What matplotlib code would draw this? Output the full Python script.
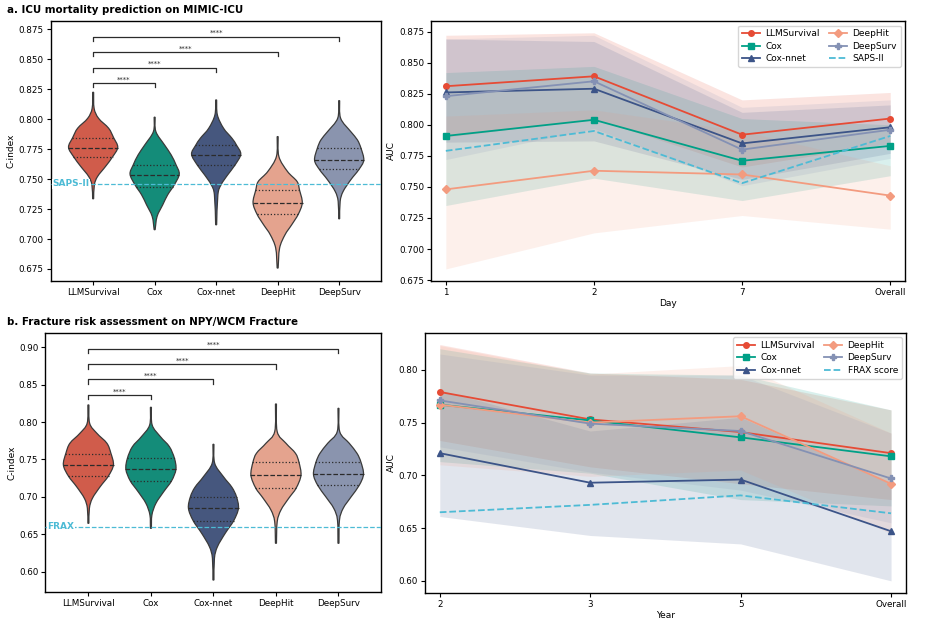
import numpy as np
import matplotlib
matplotlib.use("Agg")
import matplotlib.pyplot as plt
from matplotlib.path import Path
from matplotlib.patches import PathPatch
import seaborn as sns

plt.rcParams['font.family'] = ['DejaVu Sans']

# ==========================
# Data
# ==========================
models = ["LLMSurvival", "Cox", "Cox-nnet", "DeepHit", "DeepSurv"]

colors = {"LLMSurvival": "#E64B35", "Cox": "#00A087", "Cox-nnet": "#3C5488",
          "DeepHit": "#F39B7F", "DeepSurv": "#8491B4"}
markers = {"LLMSurvival": "o", "Cox": "s", "Cox-nnet": "^",
           "DeepHit": "D", "DeepSurv": "P"}
ref_color = "#4DBBD5"

# violin outlines (y value, relative density)
icu_violin_y = {
    "LLMSurvival": [0.8225, 0.8091, 0.8008, 0.7925, 0.7847, 0.7766, 0.7686, 0.7605, 0.7522, 0.7453, 0.7336],
    "Cox":         [0.8017, 0.7897, 0.7786, 0.7703, 0.7619, 0.7542, 0.7453, 0.7369, 0.7286, 0.7189, 0.7078],
    "Cox-nnet":    [0.8161, 0.8036, 0.7925, 0.7842, 0.7783, 0.7708, 0.7619, 0.7536, 0.7453, 0.7369, 0.7119],
    "DeepHit":     [0.7855, 0.7689, 0.7564, 0.7480, 0.7408, 0.7303, 0.7208, 0.7119, 0.7036, 0.6925, 0.6758],
    "DeepSurv":    [0.8155, 0.8008, 0.7897, 0.7828, 0.7756, 0.7658, 0.7580, 0.7494, 0.7397, 0.7314, 0.7169],
}
icu_violin_w = {
    "LLMSurvival": [0.02, 0.04, 0.22, 0.63, 0.83, 1.00, 0.79, 0.50, 0.18, 0.05, 0.02],
    "Cox":         [0.02, 0.05, 0.40, 0.67, 0.87, 1.00, 0.80, 0.53, 0.33, 0.10, 0.02],
    "Cox-nnet":    [0.02, 0.05, 0.30, 0.64, 0.83, 1.00, 0.77, 0.47, 0.20, 0.07, 0.02],
    "DeepHit":     [0.02, 0.05, 0.40, 0.79, 0.89, 1.00, 0.84, 0.57, 0.30, 0.08, 0.02],
    "DeepSurv":    [0.02, 0.06, 0.47, 0.74, 0.89, 1.00, 0.80, 0.47, 0.16, 0.04, 0.02],
}
icu_quartiles = {
    "LLMSurvival": [0.7684, 0.7763, 0.7845],
    "Cox":         [0.7433, 0.7536, 0.7619],
    "Cox-nnet":    [0.7619, 0.7705, 0.7783],
    "DeepHit":     [0.7208, 0.7302, 0.7407],
    "DeepSurv":    [0.7582, 0.7660, 0.7756],
}

frac_violin_y = {
    "LLMSurvival": [0.8229, 0.7984, 0.7850, 0.7717, 0.7583, 0.7427, 0.7279, 0.7136, 0.6981, 0.6848, 0.6647],
    "Cox":         [0.8198, 0.7961, 0.7805, 0.7671, 0.7516, 0.7369, 0.7217, 0.7069, 0.6914, 0.6758, 0.6580],
    "Cox-nnet":    [0.7703, 0.7450, 0.7270, 0.7128, 0.7003, 0.6848, 0.6682, 0.6513, 0.6334, 0.6179, 0.5889],
    "DeepHit":     [0.8242, 0.7872, 0.7717, 0.7583, 0.7463, 0.7289, 0.7119, 0.6981, 0.6825, 0.6669, 0.6380],
    "DeepSurv":    [0.8184, 0.7872, 0.7717, 0.7583, 0.7463, 0.7302, 0.7155, 0.7003, 0.6848, 0.6691, 0.6380],
}
frac_violin_w = {
    "LLMSurvival": [0.02, 0.05, 0.34, 0.74, 0.90, 1.00, 0.80, 0.47, 0.16, 0.04, 0.02],
    "Cox":         [0.02, 0.05, 0.38, 0.74, 0.94, 1.00, 0.83, 0.51, 0.20, 0.04, 0.02],
    "Cox-nnet":    [0.02, 0.05, 0.40, 0.74, 0.92, 1.00, 0.81, 0.47, 0.16, 0.04, 0.02],
    "DeepHit":     [0.02, 0.05, 0.40, 0.78, 0.92, 1.00, 0.81, 0.51, 0.20, 0.05, 0.02],
    "DeepSurv":    [0.02, 0.05, 0.43, 0.74, 0.90, 1.00, 0.83, 0.51, 0.19, 0.04, 0.02],
}
frac_quartiles = {
    "LLMSurvival": [0.7277, 0.7424, 0.7577],
    "Cox":         [0.7214, 0.7368, 0.7518],
    "Cox-nnet":    [0.6682, 0.6847, 0.7005],
    "DeepHit":     [0.7119, 0.7288, 0.7462],
    "DeepSurv":    [0.7157, 0.7302, 0.7462],
}

saps_cindex = 0.746
frax_cindex = 0.660

icu_bracket_y = [0.830, 0.843, 0.856, 0.869]
frac_bracket_y = [0.836, 0.857, 0.877, 0.898]

# time-dependent AUC
icu_days = ["1", "2", "7", "Overall"]
icu_mean = {
    "LLMSurvival": [0.831, 0.839, 0.792, 0.805],
    "Cox":         [0.791, 0.804, 0.771, 0.783],
    "Cox-nnet":    [0.826, 0.829, 0.785, 0.798],
    "DeepHit":     [0.748, 0.763, 0.760, 0.743],
    "DeepSurv":    [0.823, 0.835, 0.780, 0.796],
}
icu_lower = {
    "LLMSurvival": [0.790, 0.805, 0.766, 0.785],
    "Cox":         [0.735, 0.757, 0.739, 0.759],
    "Cox-nnet":    [0.786, 0.787, 0.756, 0.777],
    "DeepHit":     [0.684, 0.713, 0.727, 0.716],
    "DeepSurv":    [0.772, 0.797, 0.751, 0.773],
}
icu_upper = {
    "LLMSurvival": [0.872, 0.874, 0.820, 0.826],
    "Cox":         [0.842, 0.847, 0.805, 0.800],
    "Cox-nnet":    [0.869, 0.867, 0.810, 0.816],
    "DeepHit":     [0.807, 0.812, 0.795, 0.767],
    "DeepSurv":    [0.869, 0.872, 0.814, 0.820],
}
saps_auc = [0.779, 0.795, 0.753, 0.791]

frac_years = ["2", "3", "5", "Overall"]
frac_mean = {
    "LLMSurvival": [0.779, 0.753, 0.741, 0.721],
    "Cox":         [0.767, 0.752, 0.736, 0.718],
    "Cox-nnet":    [0.721, 0.693, 0.696, 0.647],
    "DeepHit":     [0.767, 0.750, 0.756, 0.692],
    "DeepSurv":    [0.771, 0.749, 0.742, 0.697],
}
frac_lower = {
    "LLMSurvival": [0.733, 0.708, 0.692, 0.677],
    "Cox":         [0.713, 0.702, 0.677, 0.671],
    "Cox-nnet":    [0.661, 0.643, 0.635, 0.600],
    "DeepHit":     [0.710, 0.699, 0.705, 0.645],
    "DeepSurv":    [0.727, 0.703, 0.686, 0.655],
}
frac_upper = {
    "LLMSurvival": [0.824, 0.797, 0.791, 0.762],
    "Cox":         [0.820, 0.797, 0.795, 0.762],
    "Cox-nnet":    [0.781, 0.742, 0.755, 0.692],
    "DeepHit":     [0.823, 0.796, 0.804, 0.740],
    "DeepSurv":    [0.815, 0.795, 0.795, 0.740],
}
frax_auc = [0.665, 0.672, 0.681, 0.664]

VIOLIN_WIDTH = 0.8


# ==========================
# Helpers
# ==========================
def smooth_outline(pts):
    # Catmull-Rom through the given points, as cubic Bezier path pieces
    pts = np.asarray(pts, dtype=float)
    ext = np.vstack([pts[0], pts, pts[-1]])
    verts = [pts[0]]
    codes = [Path.MOVETO]
    for i in range(1, len(ext) - 2):
        p0, p1, p2, p3 = ext[i - 1], ext[i], ext[i + 1], ext[i + 2]
        verts += [p1 + (p2 - p0) / 6, p2 - (p3 - p1) / 6, p2]
        codes += [Path.CURVE4] * 3
    return verts, codes


def draw_violin(ax, pos, ys, ws, color):
    half = 0.5 * VIOLIN_WIDTH * np.asarray(ws) / max(ws)
    right = np.column_stack([pos + half, ys])
    left = np.column_stack([pos - half, ys])[::-1]
    v1, c1 = smooth_outline(right)
    v2, c2 = smooth_outline(left)
    c2[0] = Path.LINETO
    verts = v1 + v2 + [v1[0]]
    codes = c1 + c2 + [Path.CLOSEPOLY]
    patch = PathPatch(Path(verts, codes), facecolor=color, edgecolor="#3a3a3a",
                      linewidth=0.9, zorder=2)
    ax.add_patch(patch)


def violin_panel(ax, vy, vw, quart, ref, ref_label, brackets, tick_len, yticks, ylim, fmt):
    for i, m in enumerate(models):
        draw_violin(ax, i, vy[m], vw[m], sns.desaturate(colors[m], 0.75))

    # quartile lines
    for i, m in enumerate(models):
        ys = np.array(vy[m])[::-1]
        ws = np.array(vw[m])[::-1]
        for q, ls in zip(quart[m], [":", "--", ":"]):
            half = 0.5 * VIOLIN_WIDTH * np.interp(q, ys, ws) * 1.02
            ax.plot([i - half, i + half], [q, q], color="#2b2b2b",
                    linestyle=ls, linewidth=0.9, zorder=3)

    # reference line
    ax.axhline(ref, color=ref_color, linestyle="--", linewidth=0.9, zorder=4)
    ax.text(0.006, ref, ref_label, transform=ax.get_yaxis_transform(),
            color=ref_color, fontsize=6.5, fontweight="bold", va="center",
            ha="left", zorder=5,
            bbox=dict(facecolor="white", edgecolor="none", pad=0.3))

    # significance brackets
    for j, y in enumerate(brackets):
        x2 = j + 1
        ax.plot([0, 0, x2, x2], [y - tick_len, y, y, y - tick_len],
                color="#2b2b2b", linewidth=0.9)
        ax.text(x2 / 2, y + tick_len * 0.15, "****", ha="center", va="bottom",
                fontsize=5, color="#2b2b2b")

    ax.set_xticks(range(len(models)))
    ax.set_xticklabels(models, fontsize=6.3)
    ax.set_yticks(yticks)
    ax.set_yticklabels([fmt.format(t) for t in yticks], fontsize=6.3)
    ax.set_xlim(-0.69, 4.68)
    ax.set_ylim(*ylim)
    ax.set_ylabel("C-index", fontsize=6.5, labelpad=2)
    ax.tick_params(length=3, width=0.8, pad=2)


def auc_panel(ax, xlabels, mean, lower, upper, ref_vals, ref_label, xlabel, yticks, fmt):
    x = np.arange(len(xlabels))
    for m in models:
        ax.fill_between(x, lower[m], upper[m], color=colors[m], alpha=0.15,
                        linewidth=0)
    for m in models:
        ax.plot(x, mean[m], color=colors[m], marker=markers[m], markersize=4,
                linewidth=1.3, label=m)
    ax.plot(x, ref_vals, color=ref_color, linestyle="--", linewidth=1.3,
            label=ref_label)
    ax.set_xticks(x)
    ax.set_xticklabels(xlabels, fontsize=6.3)
    ax.set_xlim(-0.1, 3.1)
    ax.set_yticks(yticks)
    ax.set_yticklabels([fmt.format(t) for t in yticks], fontsize=6.3)
    ax.set_xlabel(xlabel, fontsize=6.5, labelpad=2)
    ax.set_ylabel("AUC", fontsize=6.5, labelpad=2)
    ax.tick_params(length=3, width=0.8, pad=2)
    ax.legend(loc="upper right", ncol=2, fontsize=6.5, handlelength=2.0,
              columnspacing=1.0, labelspacing=0.4, borderpad=0.4,
              handletextpad=0.6)


# ==========================
# Figure
# ==========================
fig = plt.figure(figsize=(9.37, 6.23), dpi=100)

ax1 = fig.add_axes([0.0541, 0.549, 0.3525, 0.4173])
ax2 = fig.add_axes([0.460, 0.5494, 0.5059, 0.4169])
ax3 = fig.add_axes([0.0483, 0.0493, 0.3583, 0.4167])
ax4 = fig.add_axes([0.4533, 0.0487, 0.5137, 0.4173])

violin_panel(ax1, icu_violin_y, icu_violin_w, icu_quartiles, saps_cindex, "SAPS-II",
             icu_bracket_y, 0.0035, np.arange(0.675, 0.876, 0.025), (0.665, 0.882), "{:.3f}")
violin_panel(ax3, frac_violin_y, frac_violin_w, frac_quartiles, frax_cindex, "FRAX",
             frac_bracket_y, 0.0058, np.arange(0.60, 0.901, 0.05), (0.5725, 0.9195), "{:.2f}")

auc_panel(ax2, icu_days, icu_mean, icu_lower, icu_upper, saps_auc, "SAPS-II", "Day",
          np.arange(0.675, 0.876, 0.025), "{:.3f}")
auc_panel(ax4, frac_years, frac_mean, frac_lower, frac_upper, frax_auc, "FRAX score", "Year",
          np.arange(0.60, 0.801, 0.05), "{:.2f}")

for ax in [ax1, ax2, ax3, ax4]:
    for s in ax.spines.values():
        s.set_linewidth(1.0)

fig.text(0.007, 1 - 10 / 623, "a. ICU mortality prediction on MIMIC-ICU",
         fontsize=7.4, fontweight="bold", va="center", ha="left")
fig.text(0.007, 1 - 322 / 623, "b. Fracture risk assessment on NPY/WCM Fracture",
         fontsize=7.4, fontweight="bold", va="center", ha="left")

fig.savefig("out.png", dpi=100)
